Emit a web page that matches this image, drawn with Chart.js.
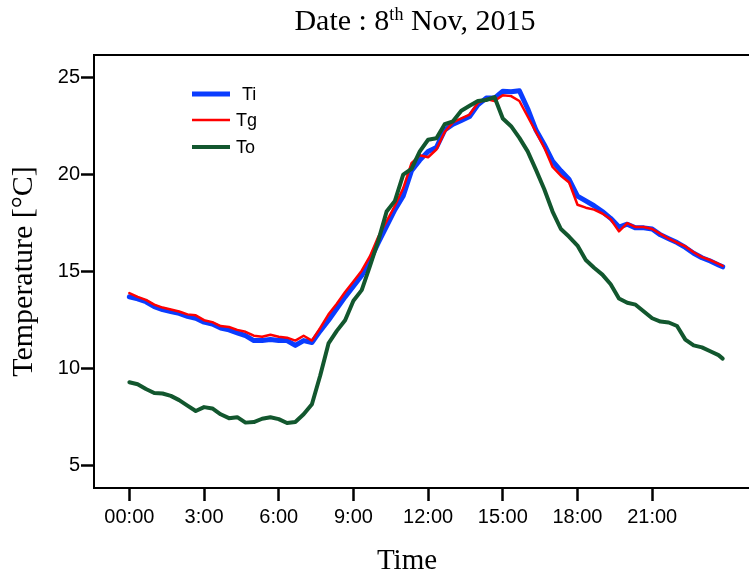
<!DOCTYPE html>
<html>
<head>
<meta charset="utf-8">
<script src="https://cdn.jsdelivr.net/npm/chart.js@4/dist/chart.umd.min.js"></script>
<style>
  body { margin: 0; background: #fff; }
  canvas { display: block; }
</style>
</head>
<body>
<canvas id="tempChart" width="749" height="577"></canvas>
<script>
// sampling times over the day
const times = [
  '00:00','00:20','00:40','01:00','01:20','01:40','02:00','02:20','02:40',
  '03:00','03:20','03:40','04:00','04:20','04:40','05:00','05:20','05:40',
  '06:00','06:20','06:40','07:00','07:20','07:40','08:00','08:20','08:40',
  '09:00','09:20','09:40','10:00','10:20','10:40','11:00','11:20','11:40',
  '12:00','12:20','12:40','13:00','13:20','13:40','14:00','14:20','14:40',
  '15:00','15:20','15:40','16:00','16:20','16:40','17:00','17:20','17:40',
  '18:00','18:20','18:40','19:00','19:20','19:40','20:00','20:20','20:40',
  '21:00','21:20','21:40','22:00','22:20','22:40','23:00','23:20','23:40','23:50'
];

// temperatures in degC
const ti = [
  13.7, 13.6, 13.45, 13.2, 13.05, 12.95, 12.85, 12.7, 12.6,
  12.4, 12.3, 12.1, 12.0, 11.85, 11.7, 11.45, 11.45, 11.5,
  11.45, 11.45, 11.2, 11.45, 11.35, 11.95, 12.5, 13.1, 13.7,
  14.25, 14.8, 15.6, 16.5, 17.35, 18.2, 18.9, 20.2, 20.75,
  21.2, 21.4, 22.3, 22.6, 22.8, 23.0, 23.6, 23.95, 23.95,
  24.3, 24.28, 24.33, 23.4, 22.3, 21.55, 20.7, 20.2, 19.75,
  18.9, 18.65, 18.4, 18.1, 17.75, 17.3, 17.45, 17.26, 17.26,
  17.2, 16.9, 16.7, 16.5, 16.25, 15.95, 15.72, 15.55, 15.35, 15.25
];
const tg = [
  13.9, 13.7, 13.55, 13.3, 13.15, 13.05, 12.95, 12.8, 12.75,
  12.5, 12.4, 12.2, 12.15, 12.0, 11.9, 11.7, 11.65, 11.75,
  11.65, 11.6, 11.45, 11.7, 11.45, 12.1, 12.8, 13.35, 13.95,
  14.5, 15.05, 15.8, 16.8, 17.6, 18.4, 19.3, 20.6, 21.0,
  20.9, 21.3, 22.2, 22.7, 22.9, 23.1, 23.7, 23.9, 23.8,
  24.1, 24.05, 23.8, 23.0, 22.2, 21.4, 20.4, 19.95, 19.6,
  18.45, 18.3, 18.2, 18.0, 17.7, 17.08, 17.5, 17.3, 17.3,
  17.2, 16.95, 16.7, 16.5, 16.3, 16.0, 15.75, 15.6, 15.4, 15.3
];
const to = [
  9.3, 9.2, 8.95, 8.75, 8.72, 8.6, 8.38, 8.1, 7.82,
  8.02, 7.95, 7.65, 7.45, 7.5, 7.22, 7.25, 7.42, 7.5,
  7.4, 7.2, 7.25, 7.65, 8.17, 9.65, 11.3, 11.95, 12.5,
  13.5, 14.05, 15.3, 16.6, 18.1, 18.65, 20.0, 20.3, 21.2,
  21.8, 21.88, 22.6, 22.75, 23.3, 23.55, 23.8, 23.85, 24.0,
  22.9, 22.5, 21.9, 21.2, 20.25, 19.25, 18.1, 17.2, 16.8,
  16.35, 15.6, 15.2, 14.85, 14.35, 13.62, 13.4, 13.3, 12.95,
  12.6, 12.43, 12.38, 12.2, 11.5, 11.2, 11.1, 10.9, 10.7, 10.52
];

const xTicks = [0, 3, 6, 9, 12, 15, 18, 21];
const xTickLabels = ['00:00', '3:00', '6:00', '9:00', '12:00', '15:00', '18:00', '21:00'];
const yTicks = [5, 10, 15, 20, 25];

const toHours = t => {
  const [h, m] = t.split(':').map(Number);
  return h + m / 60;
};
const points = vals => vals.map((v, i) => ({ x: toHours(times[i]), y: v }));

const sans = "'Liberation Sans', Arial, sans-serif";
const serif = "'Liberation Serif', 'Times New Roman', serif";

// top frame line, title with superscript, x title and the inset legend
const extras = {
  id: 'extras',
  afterDraw(chart) {
    const { ctx, chartArea: a } = chart;
    ctx.save();
    ctx.strokeStyle = '#000';
    ctx.lineWidth = 2;
    ctx.beginPath();
    ctx.moveTo(a.left - 1, a.top);
    ctx.lineTo(chart.width, a.top);
    ctx.stroke();

    // "Date : 8th Nov, 2015"
    const big = '30px ' + serif, small = '18px ' + serif;
    const parts = [['Date : 8', big, 0], ['th', small, -10], [' Nov, 2015', big, 0]];
    let w = 0;
    parts.forEach(p => { ctx.font = p[1]; w += ctx.measureText(p[0]).width; });
    let x = 415 - w / 2;
    ctx.fillStyle = '#000';
    ctx.textBaseline = 'alphabetic';
    parts.forEach(p => {
      ctx.font = p[1];
      ctx.fillText(p[0], x, 30 + p[2]);
      x += ctx.measureText(p[0]).width;
    });

    // x axis title
    ctx.font = '29px ' + serif;
    ctx.textAlign = 'center';
    ctx.fillText('Time', 407, 569);
    ctx.textAlign = 'left';

    // legend
    const rows = [94, 120, 147];
    const textX = [242, 236, 236];
    ctx.font = '18px ' + sans;
    ctx.textBaseline = 'middle';
    chart.data.datasets.forEach((ds, i) => {
      ctx.strokeStyle = ds.borderColor;
      ctx.lineWidth = ds.borderWidth;
      ctx.beginPath();
      ctx.moveTo(192, rows[i]);
      ctx.lineTo(230, rows[i]);
      ctx.stroke();
      ctx.fillStyle = '#000';
      ctx.fillText(ds.label, textX[i], rows[i] + 1);
    });
    ctx.restore();
  }
};

new Chart(document.getElementById('tempChart'), {
  type: 'line',
  data: {
    datasets: [
      { label: 'Ti', data: points(ti), borderColor: '#0a3cff', borderWidth: 5, order: 3 },
      { label: 'Tg', data: points(tg), borderColor: '#ff0000', borderWidth: 2.5, order: 2 },
      { label: 'To', data: points(to), borderColor: '#12572e', borderWidth: 4, order: 1 }
    ]
  },
  options: {
    responsive: false,
    animation: false,
    devicePixelRatio: 1,
    layout: { padding: { top: 55, right: 0, left: 0, bottom: 0 } },
    elements: { point: { radius: 0 }, line: { tension: 0, borderJoinStyle: 'round', borderCapStyle: 'round' } },
    plugins: { legend: { display: false }, tooltip: { enabled: false } },
    scales: {
      x: {
        type: 'linear',
        min: -1.42,
        max: 24.89,
        afterBuildTicks: s => { s.ticks = xTicks.map(v => ({ value: v })); },
        afterFit: s => { s.height = 89; },
        grid: { drawOnChartArea: false, tickLength: 13, tickWidth: 2.5, tickColor: '#000' },
        border: { color: '#000', width: 2 },
        ticks: {
          padding: 4,
          maxRotation: 0,
          color: '#000',
          font: { family: sans, size: 20 },
          callback: v => xTickLabels[xTicks.indexOf(v)]
        },
        title: { display: false }
      },
      y: {
        min: 3.85,
        max: 26.17,
        afterBuildTicks: s => { s.ticks = yTicks.map(v => ({ value: v })); },
        afterFit: s => { s.width = 94; },
        grid: { drawOnChartArea: false, tickLength: 13, tickWidth: 2.5, tickColor: '#000' },
        border: { color: '#000', width: 2 },
        ticks: { padding: 1, color: '#000', font: { family: sans, size: 20 } },
        title: { display: true, text: 'Temperature [\u00B0C]', color: '#000', font: { family: serif, size: 30 }, padding: { top: 6, bottom: 0 } }
      }
    }
  },
  plugins: [extras]
});
</script>
</body>
</html>
